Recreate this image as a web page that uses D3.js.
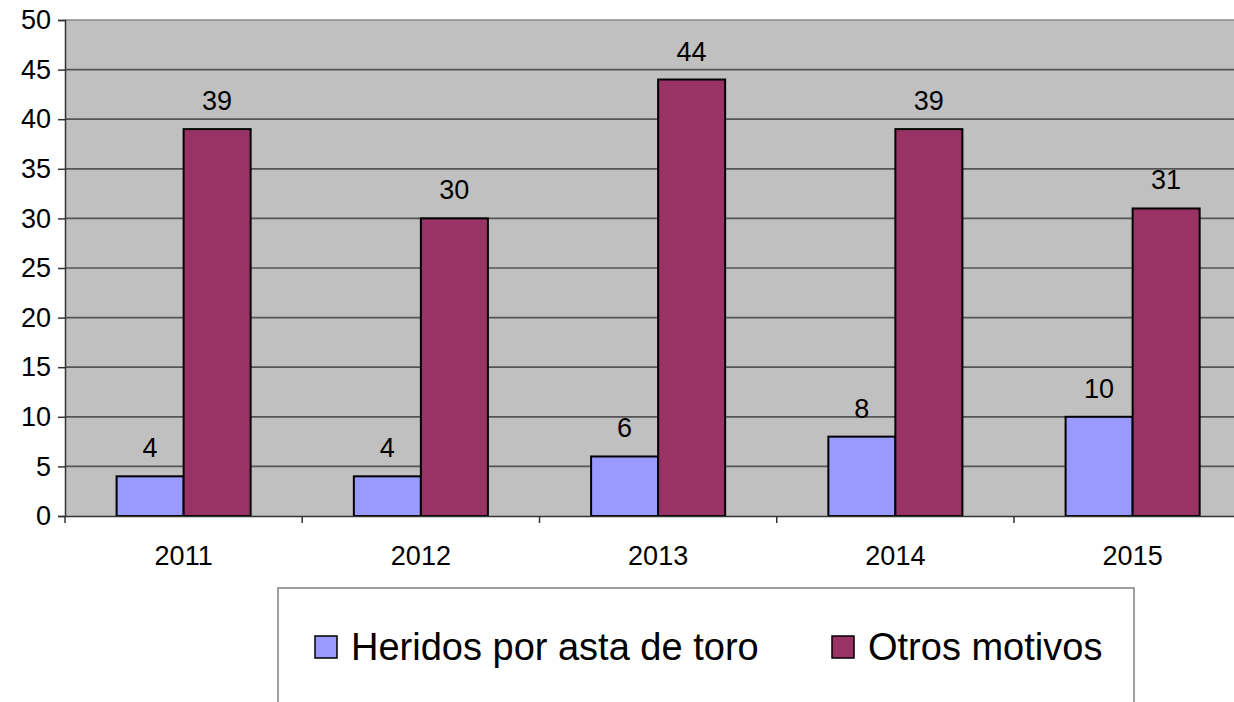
<!DOCTYPE html>
<html lang="es">
<head>
<meta charset="UTF-8">
<title>Heridos</title>
<script src="https://d3js.org/d3.v7.min.js"></script>
<style>
body { margin: 0; background: #fff; font-family: 'Liberation Sans', Arial, sans-serif; }
svg { display: block; }
</style>
</head>
<body>
<svg width="1234" height="702"></svg>
<script>
var years = ["2011", "2012", "2013", "2014", "2015"];
var series = ["Heridos por asta de toro", "Otros motivos"];
var heridos = [4, 4, 6, 8, 10];
var otros = [39, 30, 44, 39, 31];
var yTicks = [0, 5, 10, 15, 20, 25, 30, 35, 40, 45, 50];
var colors = ["#9999ff", "#993366"];

var rows = years.map(function(y, i) {
    return { year: y, values: [heridos[i], otros[i]] };
});

var svg = d3.select("svg");
var plotL = 65, plotT = 20, plotB = 516, plotR = 65 + 5 * 237.25;

var x0 = d3.scaleBand().domain(years).range([plotL, plotR])
    .paddingInner(0.435).paddingOuter(0.2175);
var x1 = d3.scaleBand().domain([0, 1]).range([0, x0.bandwidth()]);
var y = d3.scaleLinear().domain([0, 50]).range([plotB, plotT]);

// plot background
svg.append("rect")
    .attr("x", plotL).attr("y", plotT)
    .attr("width", plotR - plotL).attr("height", plotB - plotT)
    .attr("fill", "#c0c0c0");

// gridlines
svg.append("g").selectAll("line")
    .data(yTicks.filter(function(d) { return d > 0; }))
    .enter().append("line")
    .attr("x1", plotL).attr("x2", plotR)
    .attr("y1", function(d) { return y(d); })
    .attr("y2", function(d) { return y(d); })
    .attr("stroke", function(d) { return d === 50 ? "#8a8a8a" : "#555"; })
    .attr("stroke-width", 1.7);

// bars
var groups = svg.append("g").selectAll("g")
    .data(rows).enter().append("g")
    .attr("transform", function(d) { return "translate(" + x0(d.year) + ",0)"; });

groups.selectAll("rect")
    .data(function(d) { return d.values; })
    .enter().append("rect")
    .attr("x", function(d, i) { return x1(i); })
    .attr("y", function(d) { return y(d); })
    .attr("width", x1.bandwidth())
    .attr("height", function(d) { return plotB - y(d); })
    .attr("fill", function(d, i) { return colors[i]; })
    .attr("stroke", "#000")
    .attr("stroke-width", 2);

groups.selectAll("text")
    .data(function(d) { return d.values; })
    .enter().append("text")
    .attr("x", function(d, i) { return x1(i) + x1.bandwidth() / 2; })
    .attr("y", function(d) { return y(d) - 19; })
    .attr("text-anchor", "middle")
    .attr("font-size", 27)
    .attr("fill", "#000")
    .text(function(d) { return d; });

// y axis
var yAxis = svg.append("g")
    .attr("transform", "translate(" + plotL + ",0)")
    .call(d3.axisLeft(y).tickValues(yTicks).tickSize(7).tickPadding(7));
yAxis.select(".domain").attr("stroke", "#333").attr("stroke-width", 1.5);
yAxis.selectAll(".tick line").attr("stroke", "#333").attr("stroke-width", 1.5);
yAxis.selectAll("text").attr("font-size", 27).attr("font-family", "'Liberation Sans', Arial, sans-serif").attr("fill", "#000");

// x axis
var xAxis = svg.append("g")
    .attr("transform", "translate(0," + plotB + ")")
    .call(d3.axisBottom(x0).tickSize(0).tickPadding(30));
xAxis.select(".domain").attr("stroke", "#333").attr("stroke-width", 1.5);
xAxis.selectAll("text").attr("font-size", 27).attr("font-family", "'Liberation Sans', Arial, sans-serif").attr("fill", "#000");

// category boundary ticks
var step = x0.step();
svg.append("g").selectAll("line")
    .data(d3.range(years.length + 1))
    .enter().append("line")
    .attr("x1", function(i) { return plotL + i * step; })
    .attr("x2", function(i) { return plotL + i * step; })
    .attr("y1", plotB).attr("y2", plotB + 7)
    .attr("stroke", "#333").attr("stroke-width", 1.5);

// legend
svg.append("rect")
    .attr("x", 278).attr("y", 588)
    .attr("width", 856).attr("height", 140)
    .attr("fill", "#fff").attr("stroke", "#808080").attr("stroke-width", 1.5);

var legendX = [315, 832];
var leg = svg.append("g").selectAll("g")
    .data(series).enter().append("g")
    .attr("transform", function(d, i) { return "translate(" + legendX[i] + ",636)"; });
leg.append("rect")
    .attr("width", 22).attr("height", 22)
    .attr("fill", function(d, i) { return colors[i]; })
    .attr("stroke", "#000").attr("stroke-width", 1.5);
leg.append("text")
    .attr("x", 36).attr("y", 24)
    .attr("font-size", 38)
    .attr("fill", "#000")
    .text(function(d) { return d; });
</script>
</body>
</html>
